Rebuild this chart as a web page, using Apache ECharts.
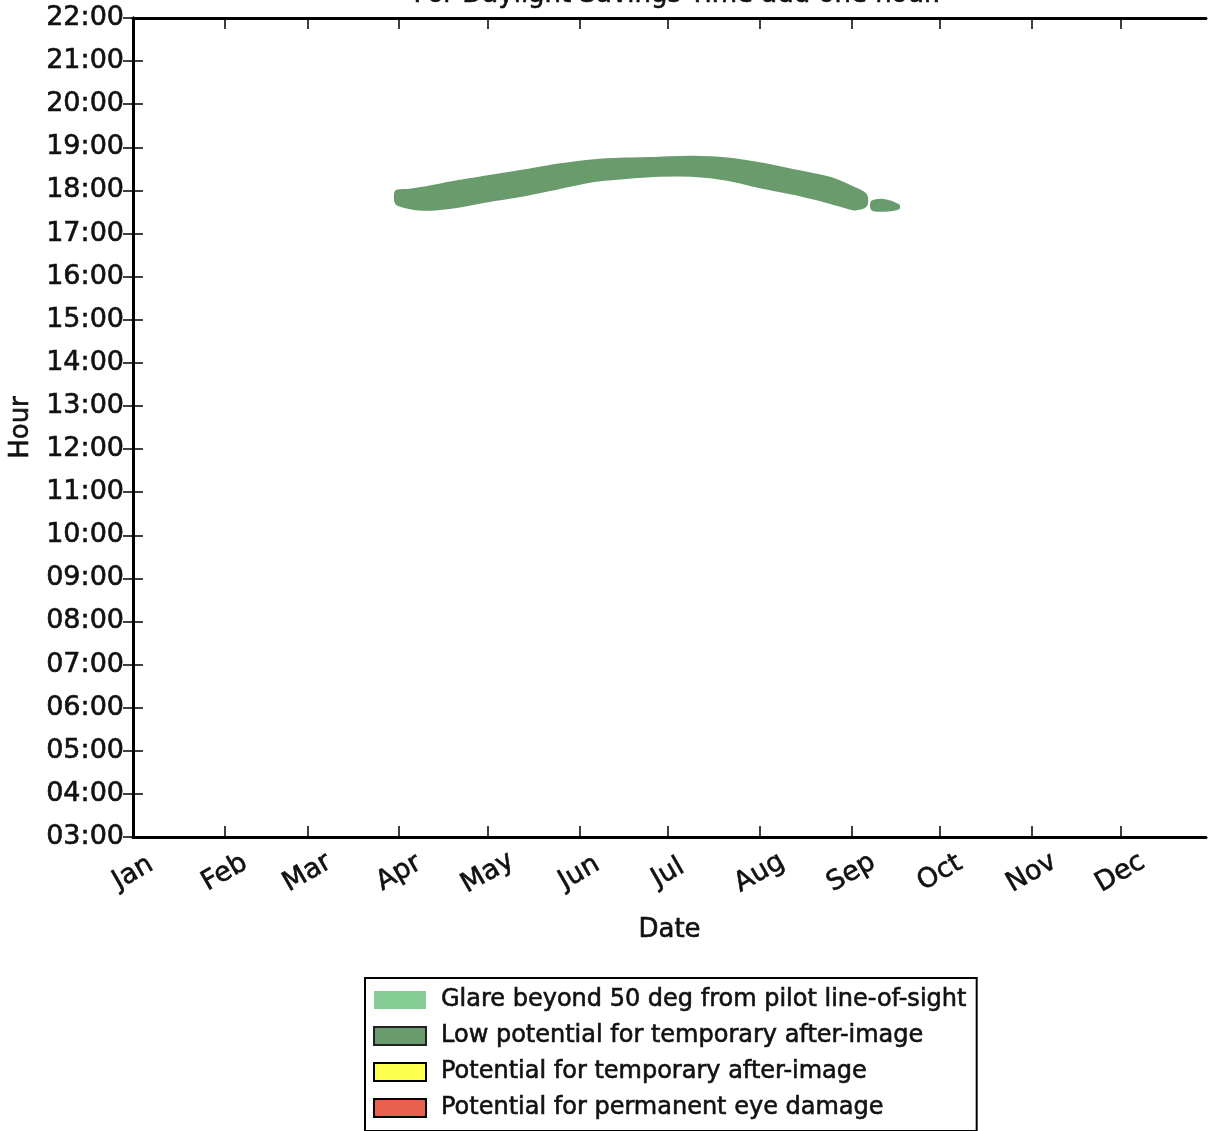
<!DOCTYPE html>
<html>
<head>
<meta charset="utf-8">
<script src="https://cdn.jsdelivr.net/npm/echarts@6/dist/echarts.min.js"></script>
<style>
  html, body { margin: 0; padding: 0; background: #fff; }
  #chart { width: 1209px; height: 1131px; }
</style>
</head>
<body>
<div id="chart"></div>
<script>
// Month starts as day-of-year (0 = Jan 1) and their tick labels
const monthStarts = [0, 31, 59, 90, 120, 151, 181, 212, 243, 273, 304, 334];
const monthNames = ['Jan', 'Feb', 'Mar', 'Apr', 'May', 'Jun', 'Jul', 'Aug', 'Sep', 'Oct', 'Nov', 'Dec'];

// Hour range of the y axis
const hourMin = 3;
const hourMax = 22;

// Glare window (hour of day) for the main arc: day-of-year, earliest and latest glare hour
const mainDays = [89, 93, 98, 104, 110, 121, 132, 144, 156, 167, 178, 189, 201, 213, 225, 236, 244, 248];
const mainLow  = [17.70, 17.60, 17.55, 17.57, 17.62, 17.76, 17.88, 18.05, 18.22, 18.29, 18.34, 18.34, 18.25, 18.06, 17.90, 17.71, 17.56, 17.64];
const mainHigh = [17.98, 18.01, 18.06, 18.14, 18.22, 18.34, 18.46, 18.60, 18.70, 18.74, 18.76, 18.78, 18.74, 18.62, 18.45, 18.29, 18.06, 17.90];

// Short tail of glare in mid-September
const tailDays = [250, 254, 259];
const tailLow  = [17.56, 17.53, 17.58];
const tailHigh = [17.74, 17.78, 17.66];

const glareSegments = [
  { day: mainDays, low: mainLow, high: mainHigh },
  { day: tailDays, low: tailLow, high: tailHigh }
];

const lowColor = '#699b6d';
const textColor = '#111';
const fontFamily = 'DejaVu Sans';
// slightly heavier strokes for all text
const heavy = { textBorderColor: '#111', textBorderWidth: 0.6 };

const chart = echarts.init(document.getElementById('chart'));

const hourLabel = v => (v < 10 ? '0' : '') + v + ':00';

const option = {
  backgroundColor: '#fff',
  animation: false,
  title: {
    text: 'For Daylight Savings Time add one hour.',
    left: 672,
    textAlign: 'center',
    top: -23,
    textStyle: Object.assign({ fontFamily, fontSize: 26, fontWeight: 'normal', color: textColor }, heavy)
  },
  grid: { left: 133, right: 3, top: 18, bottom: 294, containLabel: false },
  xAxis: [
    {
      type: 'value', min: 0, max: 363, position: 'bottom',
      name: 'Date', nameLocation: 'middle', nameGap: 80,
      nameTextStyle: Object.assign({ fontFamily, fontSize: 26, color: textColor }, heavy),
      axisLine: { show: true, lineStyle: { color: '#000', width: 3 } },
      axisTick: { show: true, inside: true, length: 11, customValues: monthStarts, lineStyle: { color: '#000', width: 1.5 } },
      axisLabel: Object.assign({
        customValues: monthStarts,
        formatter: v => monthNames[monthStarts.indexOf(v)],
        rotate: 30, align: 'center', verticalAlign: 'middle', margin: 36,
        fontFamily, fontSize: 27, color: textColor
      }, heavy),
      splitLine: { show: false }
    },
    {
      type: 'value', min: 0, max: 363, position: 'top',
      axisLine: { show: true, lineStyle: { color: '#000', width: 3 } },
      axisTick: { show: true, inside: true, length: 11, customValues: monthStarts, lineStyle: { color: '#000', width: 1.5 } },
      axisLabel: { show: false },
      splitLine: { show: false }
    }
  ],
  yAxis: [
    {
      type: 'value', min: hourMin, max: hourMax, interval: 1, position: 'left',
      name: 'Hour', nameLocation: 'middle', nameGap: 98, nameRotate: 90,
      nameTextStyle: Object.assign({ fontFamily, fontSize: 26, color: textColor }, heavy),
      axisLine: { show: true, lineStyle: { color: '#000', width: 3 } },
      axisTick: { show: true, inside: true, length: 10, lineStyle: { color: '#000', width: 1.5 } },
      axisLabel: Object.assign({
        formatter: hourLabel, margin: 9, padding: [6, 0, 0, 0],
        fontFamily, fontSize: 27, color: textColor
      }, heavy),
      splitLine: { show: false }
    },
    {
      type: 'value', min: hourMin, max: hourMax, interval: 1, position: 'right',
      axisLine: { show: true, lineStyle: { color: '#000', width: 3 } },
      axisTick: { show: true, inside: true, length: 10, lineStyle: { color: '#000', width: 1.5 } },
      axisLabel: { show: false },
      splitLine: { show: false }
    }
  ],
  legend: {
    orient: 'vertical',
    left: 365,
    top: 978,
    padding: [9, 10, 10, 8],
    itemGap: 10,
    itemWidth: 52,
    itemHeight: 18,
    icon: 'rect',
    backgroundColor: '#fff',
    borderColor: '#000',
    borderWidth: 2,
    borderRadius: 0,
    textStyle: Object.assign({ fontFamily, fontSize: 24, color: textColor, lineHeight: 26, padding: [0, 0, 0, 10] }, heavy),
    data: [
      { name: 'Glare beyond 50 deg from pilot line-of-sight', itemStyle: { borderWidth: 0 } },
      { name: 'Low potential for temporary after-image', itemStyle: { borderColor: '#222', borderWidth: 2 } },
      { name: 'Potential for temporary after-image', itemStyle: { borderColor: '#000', borderWidth: 2 } },
      { name: 'Potential for permanent eye damage', itemStyle: { borderColor: '#000', borderWidth: 2 } }
    ]
  },
  series: [
    {
      name: 'Glare beyond 50 deg from pilot line-of-sight',
      type: 'scatter', data: [], itemStyle: { color: '#86cc95', opacity: 1 }
    },
    {
      name: 'Low potential for temporary after-image',
      type: 'custom',
      xAxisIndex: 0, yAxisIndex: 0,
      itemStyle: { color: lowColor },
      data: glareSegments.map(s => [s.day[0], s.low[0]]),
      renderItem: function (params, api) {
        const seg = glareSegments[params.dataIndex];
        const upper = seg.day.map((d, i) => api.coord([d, seg.high[i]]));
        const lower = seg.day.map((d, i) => api.coord([d, seg.low[i]])).reverse();
        return {
          type: 'polygon',
          shape: { points: upper.concat(lower), smooth: 0.3 },
          style: { fill: lowColor, stroke: lowColor, lineWidth: 2 }
        };
      }
    },
    {
      name: 'Potential for temporary after-image',
      type: 'scatter', data: [], itemStyle: { color: '#ffff4d', opacity: 1 }
    },
    {
      name: 'Potential for permanent eye damage',
      type: 'scatter', data: [], itemStyle: { color: '#e8614e', opacity: 1 }
    }
  ]
};

chart.setOption(option);
</script>
</body>
</html>
